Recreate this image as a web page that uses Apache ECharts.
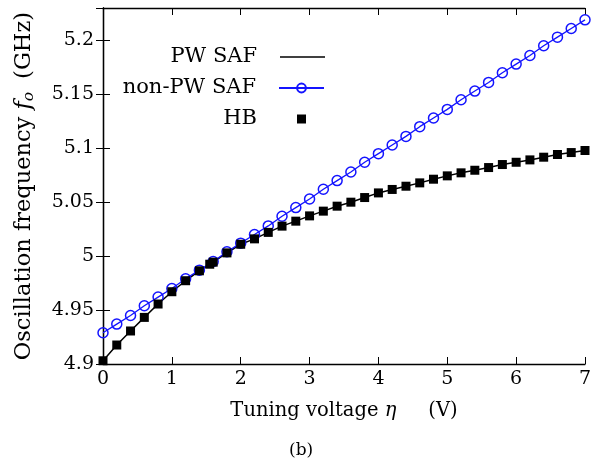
<!DOCTYPE html>
<html><head><meta charset="utf-8">
<script src="https://cdn.jsdelivr.net/npm/echarts@6/dist/echarts.min.js"></script>
<style>html,body{margin:0;padding:0;background:#fff}#c{width:602px;height:460px}</style>
</head><body><div id="c"></div>
<script>
const xTicks = [0,1,2,3,4,5,6,7];
const yTicks = [4.9,4.95,5,5.05,5.1,5.15,5.2];
const etaStep = [0,0.2,0.4,0.6,0.8,1.0,1.2,1.4,1.6,1.8,2.0,2.2,2.4,2.6,2.8,3.0,3.2,3.4,3.6,3.8,4.0,4.2,4.4,4.6,4.8,5.0,5.2,5.4,5.6,5.8,6.0,6.2,6.4,6.6,6.8,7.0];
const pwSaf = [4.903,4.9176,4.9306,4.9432,4.9556,4.967,4.9772,4.9864,4.9944,5.003,5.011,5.016,5.022,5.0278,5.0324,5.0373,5.0417,5.0463,5.050,5.0543,5.0586,5.0618,5.0648,5.0679,5.0713,5.0744,5.0772,5.0796,5.0821,5.0849,5.087,5.0892,5.0917,5.0942,5.096,5.0979];
const nonPwSaf = [4.929,4.937,4.945,4.954,4.962,4.970,4.979,4.987,4.995,5.004,5.012,5.020,5.028,5.037,5.045,5.053,5.062,5.070,5.078,5.087,5.095,5.103,5.111,5.120,5.128,5.136,5.145,5.153,5.161,5.170,5.178,5.186,5.195,5.203,5.211,5.219];
const hbEta = [0,0.2,0.4,0.6,0.8,1.0,1.2,1.4,1.55,1.6,1.8,2.0,2.2,2.4,2.6,2.8,3.0,3.2,3.4,3.6,3.8,4.0,4.2,4.4,4.6,4.8,5.0,5.2,5.4,5.6,5.8,6.0,6.2,6.4,6.6,6.8,7.0];
const hb = [4.903,4.9176,4.9306,4.9432,4.9556,4.967,4.9772,4.9864,4.9925,4.9944,5.003,5.011,5.016,5.022,5.0278,5.0324,5.0373,5.0417,5.0463,5.050,5.0543,5.0586,5.0618,5.0648,5.0679,5.0713,5.0744,5.0772,5.0796,5.0821,5.0849,5.087,5.0892,5.0917,5.0942,5.096,5.0979];
const seriesNames = ['PW SAF','non-PW SAF','HB'];

const FONT = 'DejaVu Serif';
const BLUE = '#1414ff';
const zip = (xs, ys) => xs.map((x,i)=>[x, ys[i]]);
const axisCommon = {
  axisLine:{show:true,lineStyle:{color:'#000',width:1.3}},
  axisTick:{show:true,inside:true,length:7,lineStyle:{color:'#000',width:1}},
  splitLine:{show:false}
};
const chart = echarts.init(document.getElementById('c'), null, {renderer:'canvas'});
const legendBase = (item, top, right, w, h, pad) => ({
  data:[item], orient:'vertical', right:right, top:top, align:'right',
  itemWidth:w, itemHeight:h, selectedMode:false,
  textStyle:{fontFamily:FONT,fontSize:21,lineHeight:22,color:'#000',padding:[0,pad,0,0]}
});
chart.setOption({
  animation:false,
  backgroundColor:'#fff',
  grid:{left:103,right:17,top:8,bottom:96},
  legend:[
    legendBase({name:seriesNames[0],icon:'rect'},41,272,45,1.5,18),
    legendBase({name:seriesNames[1]},72,272,45,11,18),
    legendBase({name:seriesNames[2],icon:'rect'},103,291,9,9,35)
  ],
  xAxis:[
    Object.assign({type:'value',min:xTicks[0],max:xTicks[xTicks.length-1],interval:1,
      name:'{n|Tuning voltage }{i|η}{g|}{n|(V)}',nameLocation:'middle',nameGap:37,
      nameTextStyle:{rich:{n:{fontFamily:FONT,fontSize:19.5,color:'#000'},i:{fontFamily:FONT,fontSize:19.5,fontStyle:'italic',color:'#000'},g:{width:32}}},
      axisLabel:{fontFamily:FONT,fontSize:19,color:'#000',margin:6}},axisCommon),
    Object.assign({type:'value',position:'top',min:0,max:7,interval:1,axisLabel:{show:false}},axisCommon)
  ],
  yAxis:[
    Object.assign({type:'value',min:yTicks[0],max:5.23,interval:0.05,
      name:'{n|Oscillation frequency }{i|f}{s|o}{g|}{n|(GHz)}',nameLocation:'middle',nameGap:66,
      nameTextStyle:{rich:{n:{fontFamily:FONT,fontSize:22.5,color:'#000'},i:{fontFamily:FONT,fontSize:22.5,fontStyle:'italic',color:'#000'},s:{fontFamily:FONT,fontSize:15.5,fontStyle:'italic',color:'#000',verticalAlign:'bottom',padding:[9,0,0,0]},g:{width:13}}},
      axisLabel:{fontFamily:FONT,fontSize:19,color:'#000',margin:9,showMaxLabel:false}},axisCommon),
    Object.assign({type:'value',position:'right',min:4.9,max:5.23,interval:0.05,axisLabel:{show:false}},axisCommon)
  ],
  graphic:[{type:'text',left:289,top:442,style:{text:'(b)',font:'17px "DejaVu Serif"',fill:'#000'}}],
  series:[
    {name:seriesNames[0],type:'line',data:zip(etaStep,pwSaf),showSymbol:false,symbol:'none',lineStyle:{color:'#000',width:1.5},itemStyle:{color:'#000'},z:2},
    {name:seriesNames[1],type:'line',data:zip(etaStep,nonPwSaf),symbol:'circle',symbolSize:10,
      lineStyle:{color:BLUE,width:1.3},itemStyle:{color:'rgba(255,255,255,0)',borderColor:BLUE,borderWidth:1.5},z:3},
    {name:seriesNames[2],type:'scatter',data:zip(hbEta,hb),symbol:'rect',symbolSize:9,itemStyle:{color:'#000',opacity:1},z:4}
  ]
});
</script></body></html>
